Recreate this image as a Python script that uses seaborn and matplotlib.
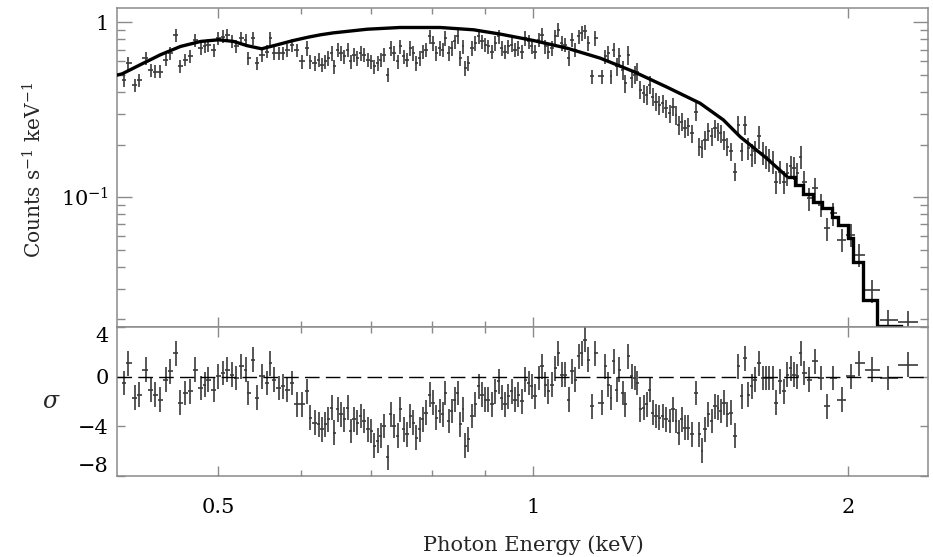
import numpy as np
import pandas as pd
import matplotlib
matplotlib.use("Agg")
import matplotlib.pyplot as plt
import seaborn as sns
from matplotlib.ticker import FixedLocator, NullFormatter

# ---------------- data ----------------
energy = [
    0.406, 0.410, 0.416, 0.420, 0.426, 0.431, 0.435, 0.440, 0.446, 0.450,
    0.455, 0.460, 0.465, 0.470, 0.475, 0.481, 0.485, 0.489, 0.495, 0.500,
    0.505, 0.510, 0.515, 0.520, 0.526, 0.531, 0.534, 0.540, 0.544, 0.550,
    0.557, 0.560, 0.565, 0.571, 0.577, 0.582, 0.588, 0.594,
    0.601, 0.608, 0.612, 0.618, 0.624, 0.628, 0.633, 0.637, 0.642, 0.645,
    0.650, 0.655, 0.660, 0.665, 0.669, 0.674, 0.679, 0.684, 0.689, 0.695,
    0.700, 0.705, 0.710, 0.715, 0.720, 0.726, 0.731, 0.736, 0.742, 0.746,
    0.752, 0.757, 0.763, 0.768, 0.773, 0.779, 0.784, 0.790, 0.796, 0.802,
    0.808, 0.814, 0.820, 0.824, 0.830, 0.836, 0.842, 0.847, 0.852, 0.857,
    0.861, 0.867, 0.874, 0.880, 0.887, 0.893, 0.900, 0.906, 0.913, 0.920,
    0.927, 0.933, 0.940, 0.947, 0.954, 0.961, 0.968, 0.975, 0.983, 0.990,
    0.997, 1.004, 1.012, 1.019, 1.027, 1.034, 1.042, 1.050, 1.057, 1.065,
    1.073, 1.081, 1.089, 1.097, 1.105, 1.113, 1.121, 1.129, 1.138, 1.146,
    1.163, 1.172, 1.180, 1.186, 1.195, 1.202, 1.209, 1.218, 1.224, 1.233,
    1.242, 1.252, 1.258, 1.265, 1.275, 1.284, 1.292, 1.301, 1.311, 1.320,
    1.330, 1.340, 1.350, 1.360, 1.370, 1.377, 1.387, 1.397, 1.407, 1.418,
    1.431, 1.442, 1.449, 1.460, 1.471, 1.481, 1.492, 1.503, 1.511, 1.522,
    1.533, 1.545, 1.560, 1.571, 1.583, 1.594, 1.606, 1.618, 1.630, 1.645,
    1.657, 1.670, 1.682, 1.694, 1.707, 1.722, 1.737, 1.750, 1.763, 1.776,
    1.789, 1.802, 1.815, 1.837, 1.860, 1.883, 1.908, 1.936, 1.972, 2.012,
    2.050, 2.107, 2.186, 2.284,
]

rate = [
    0.470, 0.585, 0.440, 0.470, 0.625, 0.536, 0.524, 0.524, 0.612, 0.668,
    0.850, 0.560, 0.612, 0.639, 0.796, 0.713, 0.729, 0.745, 0.698, 0.814,
    0.831, 0.850, 0.779, 0.729, 0.814, 0.796, 0.625, 0.814, 0.585, 0.653,
    0.682, 0.814, 0.668, 0.668, 0.668, 0.698, 0.745, 0.698,
    0.598, 0.713, 0.598, 0.585, 0.612, 0.573, 0.598, 0.625, 0.668, 0.560,
    0.698, 0.668, 0.639, 0.698, 0.598, 0.653, 0.625, 0.668, 0.653, 0.612,
    0.598, 0.560, 0.585, 0.612, 0.653, 0.502, 0.713, 0.668, 0.598, 0.729,
    0.639, 0.612, 0.713, 0.668, 0.585, 0.625, 0.682, 0.698, 0.832, 0.762,
    0.668, 0.713, 0.698, 0.814, 0.668, 0.713, 0.779, 0.832, 0.625, 0.729,
    0.548, 0.585, 0.713, 0.762, 0.832, 0.779, 0.745, 0.729, 0.682, 0.762,
    0.832, 0.713, 0.682, 0.729, 0.745, 0.698, 0.713, 0.682, 0.814, 0.779,
    0.729, 0.682, 0.796, 0.850, 0.729, 0.682, 0.713, 0.832, 0.908, 0.762,
    0.745, 0.625, 0.796, 0.698, 0.832, 0.869, 0.888, 0.762, 0.491, 0.814,
    0.491, 0.639, 0.668, 0.491, 0.698, 0.560, 0.639, 0.536, 0.449, 0.653,
    0.480, 0.502, 0.524, 0.412, 0.394, 0.385, 0.440, 0.377, 0.353, 0.338,
    0.345, 0.323, 0.303, 0.330, 0.296, 0.259, 0.271, 0.248, 0.254, 0.232,
    0.309, 0.195, 0.191, 0.213, 0.238, 0.223, 0.248, 0.238, 0.232, 0.213,
    0.195, 0.183, 0.140, 0.259, 0.183, 0.259, 0.191, 0.175, 0.183, 0.223,
    0.179, 0.171, 0.164, 0.160, 0.123, 0.140, 0.123, 0.137, 0.150, 0.147,
    0.137, 0.171, 0.123, 0.0987, 0.1125, 0.0903, 0.0664, 0.0810, 0.0569, 0.0608,
    0.0467, 0.0294, 0.0198, 0.0194,
]

residual = [
    -0.51, 1.09, -1.71, -1.44, 0.56, -1.04, -1.44, -1.84, -0.24, 0.43,
    1.89, -2.11, -1.31, -1.17, 0.56, -0.91, -0.64, -0.24, -1.04, 0.03,
    0.29, 0.56, 0.16, -0.11, 0.83, 0.56, -1.31, 1.36, -1.71, 0.03,
    -0.51, 1.09, -0.24, -0.91, -0.77, -1.04, -0.51, -2.24,
    -2.24, -1.17, -3.31, -3.71, -3.84, -4.24, -3.84, -3.44, -2.51, -4.51,
    -2.64, -3.04, -3.44, -2.51, -4.37, -3.44, -3.71, -3.17, -3.57, -4.24,
    -4.37, -5.57, -5.17, -4.77, -3.97, -6.51, -3.04, -3.97, -4.77, -2.64,
    -4.24, -4.64, -3.17, -3.71, -4.91, -4.24, -3.44, -2.91, -1.44, -2.11,
    -3.31, -2.77, -3.04, -1.31, -3.57, -2.77, -1.84, -1.31, -3.84, -2.64,
    -5.57, -5.04, -3.17, -2.24, -0.77, -1.44, -1.84, -1.84, -2.24, -1.17,
    -0.37, -1.71, -2.24, -1.57, -1.17, -1.84, -1.44, -1.97, -0.24, -0.51,
    -0.77, -1.57, -0.11, 0.83, -0.64, -1.17, -0.64, 0.69, 1.89, 0.16,
    0.16, -1.84, 0.43, -0.24, 1.63, 1.89, 2.96, 1.36, -2.37, 1.89,
    -2.11, 0.83, -0.64, -1.71, 1.23, -1.04, 0.56, -1.31, -2.24, 1.63,
    0.03, -0.11, -0.51, -2.64, -2.51, -2.24, -1.04, -2.91, -3.17, -3.31,
    -3.17, -3.44, -3.57, -2.64, -3.57, -4.51, -3.44, -4.11, -4.11, -4.64,
    -1.31, -4.64, -5.97, -4.24, -3.04, -3.57, -2.37, -2.51, -2.77, -2.11,
    -3.04, -2.91, -4.77, 0.83, -1.57, 1.49, -1.44, -0.77, -0.24, 1.09,
    -0.11, -0.11, -0.11, -0.11, -2.11, -0.37, -1.17, 0.16, 0.69, 0.16,
    0.03, 1.89, 0.29, -0.24, 1.23, -0.11, -2.37, -0.11, -1.84, 0.03,
    1.09, 0.56, -0.11, 0.96,
]

# fractional error bar size per energy band
err_band_upper = [0.6, 1.2, 1.6, 3.0]
err_band_frac = [0.085, 0.095, 0.12, 0.15]

# model curve (smooth part) and its coarse binned tail
model_energy = [0.400, 0.4045, 0.421, 0.440, 0.460, 0.481, 0.500, 0.517, 0.533,
                0.550, 0.569, 0.590, 0.610, 0.626, 0.644, 0.694, 0.746, 0.815,
                0.877, 0.930, 1.000, 1.077, 1.159, 1.247, 1.342, 1.444, 1.520,
                1.577, 1.672, 1.747]
model_rate = [0.500, 0.508, 0.573, 0.653, 0.729, 0.779, 0.796, 0.779, 0.736,
              0.707, 0.745, 0.789, 0.825, 0.850, 0.872, 0.915, 0.936, 0.936,
              0.908, 0.858, 0.789, 0.713, 0.625, 0.524, 0.427, 0.345, 0.277,
              0.222, 0.167, 0.132]
step_edges = [1.747, 1.78, 1.813, 1.85, 1.887, 1.929, 1.956, 2.0, 2.022,
              2.067, 2.132, 2.245, 2.40]
step_rate = [0.130, 0.117, 0.104, 0.094, 0.0865, 0.0774, 0.0694, 0.0582,
             0.0428, 0.0258, 0.0184, 0.012]

# ---------------- derived quantities ----------------
E = np.array(energy)
R = np.array(rate)
S = np.array(residual)
mids = np.sqrt(E[:-1] * E[1:])
lo_edge = np.concatenate([[E[0] ** 2 / mids[0]], mids])
hi_edge = np.concatenate([mids, [E[-1] ** 2 / mids[-1]]])
xerr = np.vstack([E - lo_edge, hi_edge - E])
band = np.digitize(E, err_band_upper)
yerr = R * np.array(err_band_frac)[band]

model_df = pd.DataFrame({"energy": model_energy, "rate": model_rate})

# ---------------- figure ----------------
sns.set_theme(style="ticks")
plt.rcParams["font.family"] = ["DejaVu Serif"]
plt.rcParams["mathtext.fontset"] = "dejavuserif"

W, H = 933, 557
fig = plt.figure(figsize=(W / 100, H / 100), dpi=100)
left, right = 117, 928
t_top, t_bot, b_bot = 8, 327, 476
ax1 = fig.add_axes([left / W, 1 - t_bot / H, (right - left) / W, (t_bot - t_top) / H])
ax2 = fig.add_axes([left / W, 1 - b_bot / H, (right - left) / W, (b_bot - t_bot) / H])

spine_col = "#8a8a8a"
bar_col = "#3a3a3a"

# top panel
ax1.errorbar(E, R, xerr=xerr, yerr=yerr, fmt="none", ecolor=bar_col,
             elinewidth=1.2, capsize=0, zorder=2)
sns.lineplot(data=model_df, x="energy", y="rate", ax=ax1, color="black",
             linewidth=2.4, sort=True, estimator=None, zorder=3)
ax1.stairs(step_rate, step_edges, color="black", linewidth=2.4, baseline=None, zorder=3)

# bottom panel
ax2.errorbar(E, S, xerr=xerr, yerr=np.ones_like(S), fmt="none", ecolor=bar_col,
             elinewidth=1.2, capsize=0, zorder=2)
ax2.axhline(0, color="black", linewidth=1.0, dashes=(10.5, 4.5), zorder=3)

for ax in (ax1, ax2):
    ax.set_xscale("log")
    ax.set_xlim(0.40, 2.385)
    ax.set_xlabel("")
    ax.set_ylabel("")
    for sp in ax.spines.values():
        sp.set_color(spine_col)
        sp.set_linewidth(1.1)
        sp.set_visible(True)
    ax.xaxis.set_major_locator(FixedLocator([0.5, 1, 2]))
    ax.xaxis.set_minor_locator(FixedLocator([0.6, 0.7, 0.8, 0.9]))
    ax.xaxis.set_minor_formatter(NullFormatter())
    ax.tick_params(axis="both", which="both", direction="in", top=True, right=True,
                   color=spine_col, width=1.0, labelsize=15, labelcolor="black")
    ax.tick_params(axis="x", which="major", length=7)
    ax.tick_params(axis="x", which="minor", length=4)

ax1.set_yscale("log")
ax1.set_ylim(0.0181, 1.21)
ax1.yaxis.set_major_locator(FixedLocator([0.1, 1]))
ax1.set_yticklabels([r"$10^{-1}$", "1"])
ax1.yaxis.set_minor_locator(FixedLocator([0.02, 0.03, 0.04, 0.05, 0.06, 0.07, 0.08, 0.09,
                                          0.2, 0.3, 0.4, 0.5, 0.6, 0.7, 0.8, 0.9]))
ax1.yaxis.set_minor_formatter(NullFormatter())
ax1.tick_params(axis="y", which="major", length=11, pad=6)
ax1.tick_params(axis="y", which="minor", length=5.5)
ax1.tick_params(axis="x", labelbottom=False)

ax2.set_ylim(-8, 4)
ax2.set_yticks([4, 0, -4, -8])
ax2.set_yticklabels(["4", "0", "\u22124", "\u22128"])
ax2.tick_params(axis="y", which="major", length=6, pad=6)
ylabs = ax2.get_yticklabels()
ylabs[0].set_va("top")
ylabs[3].set_va("bottom")
ax2.set_xticklabels(["0.5", "1", "2"])
ax2.tick_params(axis="x", which="major", pad=16)

fig.text(34 / W, 1 - 170 / H, "Counts s$^{-1}$ keV$^{-1}$", rotation=90,
         ha="center", va="center", fontsize=14.5)
fig.text(51 / W, 1 - 402 / H, r"$\sigma$", ha="center", va="center", fontsize=17)
fig.text(533 / W, 1 - 545 / H, "Photon Energy (keV)", ha="center", va="center",
         fontsize=15)

fig.savefig("out.png", dpi=100)
